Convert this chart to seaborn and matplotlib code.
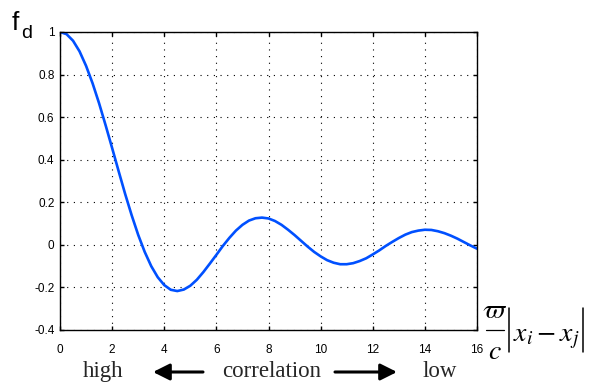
import matplotlib
matplotlib.use("Agg")
import matplotlib.pyplot as plt
from matplotlib.patches import FancyArrowPatch
from matplotlib.lines import Line2D
import seaborn as sns
import pandas as pd

# Normalised correlation f_d versus scaled distance (omega/c)|xi - xj|
distance = [0.0, 0.25, 0.5, 0.75, 1.0, 1.25, 1.5, 1.75, 2.0, 2.25, 2.5, 2.75,
            3.0, 3.25, 3.5, 3.75, 4.0, 4.25, 4.5, 4.75, 5.0, 5.25, 5.5, 5.75,
            6.0, 6.25, 6.5, 6.75, 7.0, 7.25, 7.5, 7.75, 8.0, 8.25, 8.5, 8.75,
            9.0, 9.25, 9.5, 9.75, 10.0, 10.25, 10.5, 10.75, 11.0, 11.25, 11.5,
            11.75, 12.0, 12.25, 12.5, 12.75, 13.0, 13.25, 13.5, 13.75, 14.0,
            14.25, 14.5, 14.75, 15.0, 15.25, 15.5, 15.75, 16.0]
fd = [1.000, 0.990, 0.959, 0.909, 0.841, 0.759, 0.665, 0.562, 0.455, 0.346,
      0.239, 0.139, 0.047, -0.033, -0.100, -0.152, -0.189, -0.211, -0.217,
      -0.210, -0.192, -0.164, -0.128, -0.088, -0.047, -0.005, 0.033, 0.067,
      0.094, 0.114, 0.125, 0.128, 0.124, 0.112, 0.094, 0.071, 0.046, 0.019,
      -0.008, -0.033, -0.054, -0.072, -0.084, -0.091, -0.091, -0.086, -0.076,
      -0.063, -0.045, -0.026, -0.005, 0.014, 0.032, 0.048, 0.060, 0.067,
      0.071, 0.070, 0.064, 0.055, 0.043, 0.029, 0.013, -0.003, -0.018]

x_ticks = [0, 2, 4, 6, 8, 10, 12, 14, 16]
y_ticks = [-0.4, -0.2, 0, 0.2, 0.4, 0.6, 0.8, 1]
y_tick_labels = ["-0.4", "-0.2", "0", "0.2", "0.4", "0.6", "0.8", "1"]

sns.set_theme(style="white")
plt.rcParams["font.family"] = ["Liberation Sans", "DejaVu Sans"]
plt.rcParams["mathtext.fontset"] = "stix"

df = pd.DataFrame({"d": distance, "fd": fd})

W, H = 591, 385
fig = plt.figure(figsize=(W / 100, H / 100), dpi=100)
ax = fig.add_axes([60 / W, 55 / H, 417 / W, 298 / H])

sns.lineplot(data=df, x="d", y="fd", ax=ax, color="#0050ff", linewidth=1.9)

ax.set_xlim(0, 16)
ax.set_ylim(-0.4, 1)
ax.set_xticks(x_ticks)
ax.set_xticklabels([str(t) for t in x_ticks])
ax.set_yticks(y_ticks)
ax.set_yticklabels(y_tick_labels)
ax.set_xlabel("")
ax.set_ylabel("")

ax.grid(True, linestyle=(0, (1, 5)), color="black", linewidth=0.8)
for s in ax.spines.values():
    s.set_visible(True)
    s.set_color("black")
    s.set_linewidth(1.0)
ax.tick_params(direction="in", length=3, width=1, color="black",
               top=True, right=True, bottom=True, left=True,
               labelsize=8.5, labelcolor="black")
ax.tick_params(axis="x", pad=10)
ax.tick_params(axis="y", pad=4)


def px(x, y):
    """Pixel position (from the top-left corner) to figure fraction."""
    return x / W, 1 - y / H


# y-axis quantity
fig.text(*px(12, 30), "f", fontsize=19, color="black",
         ha="left", va="baseline")
fig.text(*px(21, 38), "d", fontsize=14, color="black",
         ha="left", va="baseline")

# x-axis quantity: (varpi / c) |x_i - x_j|
fig.text(*px(495, 318), r"$\varpi$", fontsize=20, color="black",
         ha="center", va="baseline")
fig.add_artist(Line2D([486 / W, 504 / W], [1 - 330 / H, 1 - 330 / H],
                      color="black", lw=0.9, transform=fig.transFigure))
fig.text(*px(495, 359), r"$c$", fontsize=20, color="black",
         ha="center", va="baseline")
for bx in (509, 583):
    fig.add_artist(Line2D([bx / W, bx / W], [1 - 308 / H, 1 - 352 / H],
                          color="black", lw=1.1, transform=fig.transFigure))
fig.text(*px(513, 341), r"$x_i - x_j$", fontsize=20, color="black",
         ha="left", va="baseline")

# correlation direction labels
serif = ["Liberation Serif", "DejaVu Serif"]
fig.text(*px(103, 377), "high", family=serif, fontsize=16.5,
         ha="center", va="baseline")
fig.text(*px(272, 377), "correlation", family=serif, fontsize=16.5,
         ha="center", va="baseline")
fig.text(*px(440, 377), "low", family=serif, fontsize=16.5,
         ha="center", va="baseline")
arrow = dict(arrowstyle="-|>,head_length=0.5,head_width=0.25",
             mutation_scale=20, color="black", lw=2.2,
             shrinkA=0, shrinkB=0, transform=fig.transFigure)
fig.add_artist(FancyArrowPatch(px(203, 372), px(153, 372), **arrow))
fig.add_artist(FancyArrowPatch(px(335, 372), px(397, 372), **arrow))

fig.savefig("out.png", dpi=100)
